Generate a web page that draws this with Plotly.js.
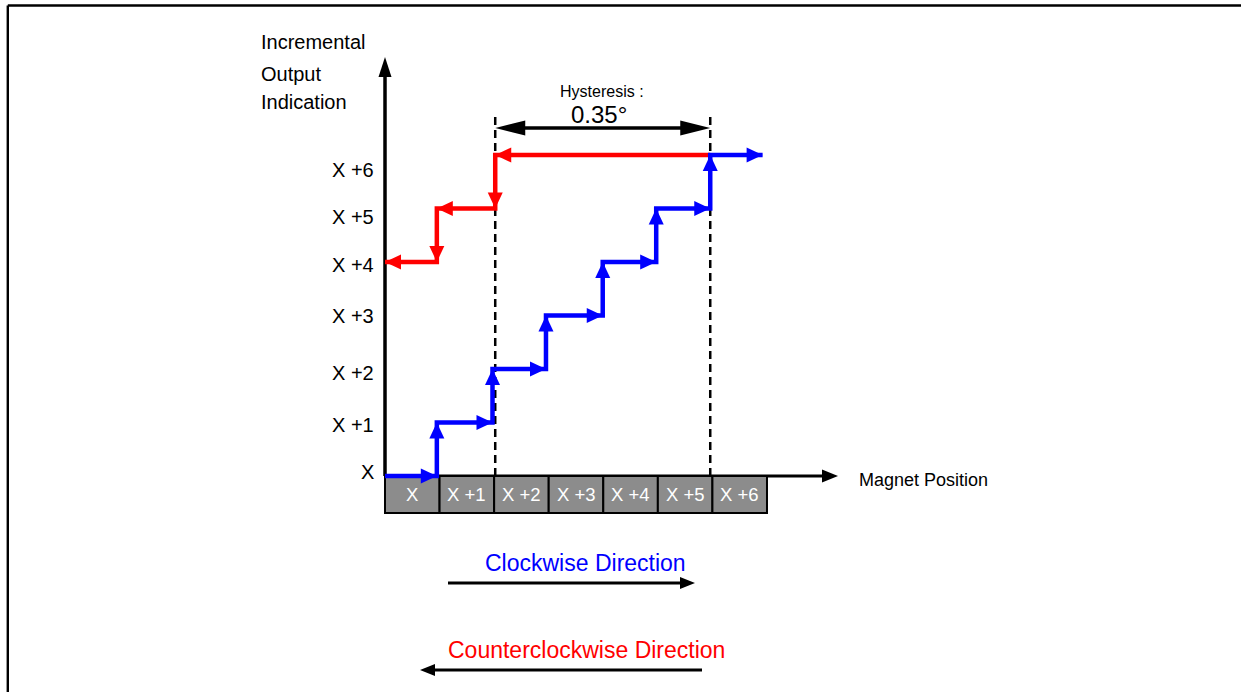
<!DOCTYPE html>
<html><head><meta charset="utf-8">
<script src="https://cdn.plot.ly/plotly-3.0.1.min.js"></script>
<style>html,body{margin:0;padding:0;background:#fff;} #chart{width:1241px;height:692px;}</style>
</head><body><div id="chart"></div>
<script>
// ---------------- data ----------------
const positionLabels = ['X', 'X +1', 'X +2', 'X +3', 'X +4', 'X +5', 'X +6'];
const outputLabels   = ['X', 'X +1', 'X +2', 'X +3', 'X +4', 'X +5', 'X +6'];
const outputLabelPos = [0.07, 0.95, 1.93, 3.0, 3.94, 4.84, 5.72];
// clockwise (blue): output increments at these magnet positions
const cwPosition = [0, 0.95, 1.97, 2.95, 3.99, 4.97, 5.96, 6.92];
const cwOutput   = [0, 1, 2, 3, 4, 5, 6, 6];
// counterclockwise (red): output decrements at these magnet positions
const ccwPosition = [5.96, 2.02, 0.95, 0.0];
const ccwOutput   = [6, 5, 4, 4];
const hysteresisTitle = 'Hysteresis :';
const hysteresisValue = '0.35°';
const xAxisTitle = 'Magnet Position';
const yAxisTitle = ['Incremental', 'Output', 'Indication'];
const cwText = 'Clockwise Direction';
const ccwText = 'Counterclockwise Direction';

// ---------------- geometry ----------------
const W = 1241, H = 692;
const UX = 54.57, UY = 53.5;          // px per unit
const X0PX = 385, Y0PX = 476;          // pixel of origin
const xr = [-X0PX / UX, (W - X0PX) / UX];
const yr = [-(H - Y0PX) / UY, Y0PX / UY];
const px2x = p => (p - X0PX) / UX;
const px2y = p => (Y0PX - p) / UY;
const FONT = 'Liberation Sans, Arial, sans-serif';
const BLUE = '#0000ff', RED = '#ff0000', BLACK = '#000000';

const shapes = [];
const annotations = [];

// arrow head triangle with tip at (x,y) (data units) pointing along (dx,dy)
function head(x, y, dx, dy, L, Wd, color) {
  let ex = dx * UX, ey = -dy * UY;
  const n = Math.hypot(ex, ey); ex /= n; ey /= n;
  const bx = -ex * L, by = -ey * L;       // pixel offsets to base centre
  const nx = -ey * Wd / 2, ny = ex * Wd / 2;
  const pts = [[0, 0], [bx + nx, by + ny], [bx - nx, by - ny]]
    .map(([a, b]) => [x + a / UX, y - b / UY]);
  shapes.push({
    type: 'path', xref: 'x', yref: 'y', layer: 'above',
    path: 'M' + pts.map(p => p[0] + ',' + p[1]).join('L') + 'Z',
    fillcolor: color, line: {width: 0}
  });
}
// straight arrow (line + head), from (x0,y0) to tip (x1,y1)
function arrow(x0, y0, x1, y1, lw, L, Wd, color, layer, both) {
  let ex = (x1 - x0) * UX, ey = (y1 - y0) * UY;
  const n = Math.hypot(ex, ey);
  const sh = L * 0.6 / n;
  const sx = both ? x0 + (x1 - x0) * sh : x0, sy = both ? y0 + (y1 - y0) * sh : y0;
  shapes.push({type: 'line', xref: 'x', yref: 'y', layer: layer || 'above',
    x0: sx, y0: sy, x1: x1 - (x1 - x0) * sh, y1: y1 - (y1 - y0) * sh,
    line: {color: color, width: lw}});
  head(x1, y1, x1 - x0, y1 - y0, L, Wd, color);
  if (both) head(x0, y0, x0 - x1, y0 - y1, L, Wd, color);
}
// arrow heads along an 'hv' step path
function stepHeads(xs, ys, color) {
  for (let i = 1; i < xs.length; i++) {
    const dxh = xs[i] - xs[i - 1];
    if (dxh !== 0) head(xs[i], ys[i - 1], dxh, 0, 16, 15, color);
    const dyv = ys[i] - ys[i - 1];
    if (dyv !== 0) head(xs[i], ys[i], 0, dyv, 16, 15, color);
  }
}

// ---- outer border ----
shapes.push({type: 'line', xref: 'paper', yref: 'paper', x0: 7.8 / W, x1: 1, y0: 1 - 5.5 / H, y1: 1 - 5.5 / H, line: {color: BLACK, width: 2.4}});
shapes.push({type: 'line', xref: 'paper', yref: 'paper', x0: 7.8 / W, x1: 7.8 / W, y0: 0, y1: 1 - 5.5 / H, line: {color: BLACK, width: 2.4}});

// ---- axes ----
arrow(0, 0, 0, px2y(57), 3.5, 20, 13, BLACK, 'below');
arrow(0, 0, px2x(838), 0, 3, 16, 13, BLACK, 'below');

// ---- hysteresis markers ----
const hA = ccwPosition[1], hB = cwPosition[6];
[hA, hB].forEach(xv => shapes.push({type: 'line', xref: 'x', yref: 'y', layer: 'below',
  x0: xv, x1: xv, y0: 0, y1: px2y(113), line: {color: BLACK, width: 2.5, dash: '8px,5px'}}));
arrow(hA, px2y(128), hB, px2y(128), 3.5, 30, 15, BLACK, 'above', true);
annotations.push({xref: 'x', yref: 'y', x: px2x(602), y: px2y(91), text: hysteresisTitle, showarrow: false,
  font: {family: FONT, size: 16, color: BLACK}, xanchor: 'center', yanchor: 'middle'});
annotations.push({xref: 'x', yref: 'y', x: px2x(599), y: px2y(114), text: hysteresisValue, showarrow: false,
  font: {family: FONT, size: 24, color: BLACK}, xanchor: 'center', yanchor: 'middle'});

// ---- step heads ----
stepHeads(ccwPosition, ccwOutput, RED);
stepHeads(cwPosition, cwOutput, BLUE);

// ---- axis labels ----
outputLabels.forEach((t, i) => annotations.push({xref: 'x', yref: 'y', x: px2x(376), y: outputLabelPos[i],
  text: t, showarrow: false, xanchor: 'right', yanchor: 'middle', font: {family: FONT, size: 20, color: BLACK}}));
[42, 74, 102].forEach((py, i) => annotations.push({xref: 'x', yref: 'y', x: px2x(259), y: px2y(py),
  text: yAxisTitle[i], showarrow: false, xanchor: 'left', yanchor: 'middle', font: {family: FONT, size: 20, color: BLACK}}));
annotations.push({xref: 'x', yref: 'y', x: px2x(857), y: px2y(480), text: xAxisTitle, showarrow: false,
  xanchor: 'left', yanchor: 'middle', font: {family: FONT, size: 18, color: BLACK}});

// ---- position cells labels ----
const boxDepth = 37 / UY;
positionLabels.forEach((t, i) => annotations.push({xref: 'x', yref: 'y', x: i + 0.5, y: -boxDepth / 2,
  text: t, showarrow: false, xanchor: 'center', yanchor: 'middle', font: {family: FONT, size: 18.5, color: '#ffffff'}}));

// ---- direction legend ----
annotations.push({xref: 'x', yref: 'y', x: px2x(585), y: px2y(563), text: cwText, showarrow: false,
  xanchor: 'center', yanchor: 'middle', font: {family: FONT, size: 23, color: BLUE}});
arrow(px2x(448), px2y(583), px2x(695), px2y(583), 3, 15, 12, BLACK);
annotations.push({xref: 'x', yref: 'y', x: px2x(586), y: px2y(650), text: ccwText, showarrow: false,
  xanchor: 'center', yanchor: 'middle', font: {family: FONT, size: 23, color: RED}});
arrow(px2x(702), px2y(670), px2x(420), px2y(670), 3, 15, 12, BLACK);

// ---------------- traces ----------------
const traces = [
  {type: 'bar', x: positionLabels.map((_, i) => i + 0.5), y: positionLabels.map(() => boxDepth),
   base: positionLabels.map(() => -boxDepth), width: 1,
   marker: {color: '#8c8c8c', line: {color: BLACK, width: 2}}, hoverinfo: 'skip'},
  {type: 'scatter', mode: 'lines', x: ccwPosition, y: ccwOutput, line: {shape: 'hv', color: RED, width: 4.5}, hoverinfo: 'skip'},
  {type: 'scatter', mode: 'lines', x: cwPosition, y: cwOutput, line: {shape: 'hv', color: BLUE, width: 4.5}, hoverinfo: 'skip'}
];

const layout = {
  width: W, height: H, margin: {l: 0, r: 0, t: 0, b: 0},
  paper_bgcolor: '#ffffff', plot_bgcolor: 'rgba(0,0,0,0)', showlegend: false,
  xaxis: {range: xr, visible: false, fixedrange: true},
  yaxis: {range: yr, visible: false, fixedrange: true},
  shapes: shapes, annotations: annotations, bargap: 0
};
Plotly.newPlot('chart', traces, layout, {displayModeBar: false, staticPlot: true});
</script></body></html>
